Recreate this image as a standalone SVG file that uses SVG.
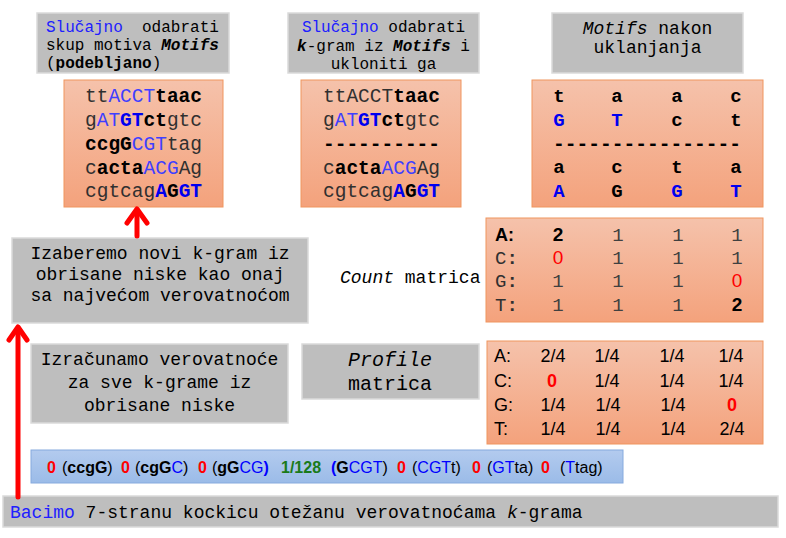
<svg xmlns="http://www.w3.org/2000/svg" width="786" height="538" viewBox="0 0 786 538">
<defs>
<linearGradient id="og" x1="0" y1="0" x2="0" y2="1"><stop offset="0" stop-color="#f5c2ab"/><stop offset="1" stop-color="#f4a27c"/></linearGradient>
<linearGradient id="bg" x1="0" y1="0" x2="0" y2="1"><stop offset="0" stop-color="#b3cbee"/><stop offset="1" stop-color="#9bbbe8"/></linearGradient>
<style>
.gray{fill:#bebebe;stroke:#dadada;stroke-width:1.5}
.org{fill:url(#og);stroke:#f0955f;stroke-width:1}
.mono{font-family:"Liberation Mono","DejaVu Sans Mono",monospace;fill:#000}
.m16{font-size:16px}
.m18{font-size:18px}
.m20{font-size:20px}
.seq{font-family:"Liberation Mono","DejaVu Sans Mono",monospace;font-size:19.5px;fill:#303030}
.b{font-weight:bold;fill:#000}
.bl{fill:#3f3fff}
.bb{font-weight:bold;fill:#0000f0}
.it{font-style:italic}
.bi{font-style:italic;font-weight:bold}
.blue{fill:#2020ff}
.let{font-family:"Liberation Mono","DejaVu Sans Mono",monospace;font-size:19px;font-weight:bold;fill:#000;text-anchor:middle}
.letb{fill:#0000f0}
.num{font-family:"Liberation Mono",monospace;font-size:19px;fill:#404040;text-anchor:middle}
.sans{font-family:"Liberation Sans",Arial,sans-serif}
.prof{font-family:"Liberation Sans",Arial,sans-serif;font-size:18px;fill:#000;text-anchor:middle}
.lab{text-anchor:start}
.bar{font-family:"Liberation Sans",Arial,sans-serif;font-size:16px;fill:#000}
.red{fill:#ff0000}
.grn{fill:#1a7a1a}
.bt{fill:#0000ff}
.arr{fill:none;stroke:#ff0000;stroke-width:5;stroke-linecap:round;stroke-linejoin:round}
</style>
</defs>

<g id="box-random">
<rect class="gray" x="37" y="13" width="192" height="60"/>
<text class="mono m16" x="46" y="32"><tspan class="blue">Slučajno</tspan>&#160; odabrati</text>
<text class="mono m16" x="46" y="50">skup motiva <tspan class="bi">Motifs</tspan></text>
<text class="mono m16" x="46" y="68">(<tspan font-weight="bold">podebljano</tspan>)</text>
</g>

<g id="box-remove">
<rect class="gray" x="288" y="13" width="191" height="60"/>
<text class="mono m16" x="383.5" y="32" text-anchor="middle"><tspan class="blue">Slučajno</tspan> odabrati</text>
<text class="mono m16" x="383.5" y="50.5" text-anchor="middle"><tspan class="bi">k</tspan>-gram iz <tspan class="bi">Motifs</tspan> i</text>
<text class="mono m16" x="383.5" y="69" text-anchor="middle">ukloniti ga</text>
</g>

<g id="box-after">
<rect class="gray" x="552" y="13" width="191" height="60"/>
<text class="mono m18" x="647.5" y="34" text-anchor="middle"><tspan class="it">Motifs</tspan> nakon</text>
<text class="mono m18" x="647.5" y="53" text-anchor="middle">uklanjanja</text>
</g>

<g id="seq1">
<rect class="org" x="64" y="80" width="159" height="127"/>
<text class="seq" x="85" y="102">tt<tspan class="bl">ACCT</tspan><tspan class="b">taac</tspan></text>
<text class="seq" x="85" y="126">g<tspan class="bl">AT</tspan><tspan class="bb">GT</tspan><tspan class="b">ct</tspan>gtc</text>
<text class="seq" x="85" y="150"><tspan class="b">ccgG</tspan><tspan class="bl">CGT</tspan>tag</text>
<text class="seq" x="85" y="174">c<tspan class="b">acta</tspan><tspan class="bl">ACG</tspan>Ag</text>
<text class="seq" x="85" y="197">cgtcag<tspan class="bb">A</tspan><tspan class="b">G</tspan><tspan class="bb">GT</tspan></text>
</g>

<g id="seq2">
<rect class="org" x="301" y="80" width="160" height="127"/>
<text class="seq" x="323" y="102">ttACCT<tspan class="b">taac</tspan></text>
<text class="seq" x="323" y="126">g<tspan class="bl">AT</tspan><tspan class="bb">GT</tspan><tspan class="b">ct</tspan>gtc</text>
<text class="seq b" x="323" y="150">----------</text>
<text class="seq" x="323" y="174">c<tspan class="b">acta</tspan><tspan class="bl">ACG</tspan>Ag</text>
<text class="seq" x="323" y="197">cgtcag<tspan class="bb">A</tspan><tspan class="b">G</tspan><tspan class="bb">GT</tspan></text>
</g>

<g id="motifs-after">
<rect class="org" x="532" y="80" width="231" height="127"/>
<text class="let" x="559" y="102">t</text><text class="let" x="617" y="102">a</text><text class="let" x="677" y="102">a</text><text class="let" x="736" y="102">c</text>
<text class="let letb" x="559" y="126">G</text><text class="let letb" x="617" y="126">T</text><text class="let" x="677" y="126">c</text><text class="let" x="736" y="126">t</text>
<text class="seq b" x="553" y="150" textLength="188" lengthAdjust="spacingAndGlyphs">----------------</text>
<text class="let" x="559" y="173">a</text><text class="let" x="617" y="173">c</text><text class="let" x="677" y="173">t</text><text class="let" x="736" y="173">a</text>
<text class="let letb" x="559" y="197">A</text><text class="let" x="617" y="197">G</text><text class="let letb" x="677" y="197">G</text><text class="let letb" x="736" y="197">T</text>
</g>

<g id="box-choose">
<rect class="gray" x="12" y="238" width="296" height="85"/>
<text class="mono m18" x="160" y="259" text-anchor="middle">Izaberemo novi k-gram iz</text>
<text class="mono m18" x="160" y="280" text-anchor="middle">obrisane niske kao onaj</text>
<text class="mono m18" x="160" y="301" text-anchor="middle">sa najvećom verovatnoćom</text>
</g>

<g id="count-label">
<text class="mono m18" x="340" y="283"><tspan class="it">Count</tspan> matrica</text>
</g>

<g id="count-matrix">
<rect class="org" x="486" y="218" width="277" height="104"/>
<text class="sans" x="495" y="241" font-size="18" font-weight="bold">A:</text>
<text class="mono" x="495" y="264" font-size="19" style="fill:#303030">C<tspan font-weight="bold">:</tspan></text>
<text class="mono" x="495" y="287" font-size="19" style="fill:#303030">G<tspan font-weight="bold">:</tspan></text>
<text class="mono" x="495" y="311" font-size="19" style="fill:#303030">T<tspan font-weight="bold">:</tspan></text>
<text class="sans" x="558" y="241" font-size="19" font-weight="bold" text-anchor="middle">2</text>
<text class="num" x="618" y="241">1</text><text class="num" x="678" y="241">1</text><text class="num" x="737" y="241">1</text>
<text class="sans red" x="558" y="264" font-size="19" text-anchor="middle">0</text>
<text class="num" x="618" y="264">1</text><text class="num" x="678" y="264">1</text><text class="num" x="737" y="264">1</text>
<text class="num" x="558" y="287">1</text><text class="num" x="618" y="287">1</text><text class="num" x="678" y="287">1</text>
<text class="sans red" x="737" y="287" font-size="19" text-anchor="middle">0</text>
<text class="num" x="558" y="311">1</text><text class="num" x="618" y="311">1</text><text class="num" x="678" y="311">1</text>
<text class="sans" x="737" y="311" font-size="19" font-weight="bold" text-anchor="middle">2</text>
</g>

<g id="box-compute">
<rect class="gray" x="31" y="344" width="257" height="79"/>
<text class="mono m18" x="159.5" y="365" text-anchor="middle">Izračunamo verovatnoće</text>
<text class="mono m18" x="159.5" y="388" text-anchor="middle">za sve k-grame iz</text>
<text class="mono m18" x="159.5" y="411" text-anchor="middle">obrisane niske</text>
</g>

<g id="box-profile">
<rect class="gray" x="302" y="344" width="177" height="55"/>
<text class="mono m20 it" x="390" y="366" text-anchor="middle">Profile</text>
<text class="mono m20" x="390" y="390" text-anchor="middle">matrica</text>
</g>

<g id="profile-matrix">
<rect class="org" x="487" y="341" width="276" height="103"/>
<text class="prof lab" x="494" y="362">A:</text>
<text class="prof lab" x="494" y="387">C:</text>
<text class="prof lab" x="494" y="411">G:</text>
<text class="prof lab" x="494" y="435">T:</text>
<text class="prof" x="553" y="362">2/4</text><text class="prof" x="607" y="362">1/4</text><text class="prof" x="672" y="362">1/4</text><text class="prof" x="731" y="362">1/4</text>
<text class="prof red" x="552" y="387" font-weight="bold">0</text><text class="prof" x="607" y="387">1/4</text><text class="prof" x="672" y="387">1/4</text><text class="prof" x="731" y="387">1/4</text>
<text class="prof" x="553" y="411">1/4</text><text class="prof" x="608" y="411">1/4</text><text class="prof" x="673" y="411">1/4</text><text class="prof red" x="732" y="411" font-weight="bold">0</text>
<text class="prof" x="553" y="435">1/4</text><text class="prof" x="608" y="435">1/4</text><text class="prof" x="673" y="435">1/4</text><text class="prof" x="732" y="435">2/4</text>
</g>

<g id="prob-bar">
<rect x="31" y="450" width="592" height="33" fill="url(#bg)" stroke="#86aade" stroke-width="1"/>
<text class="bar" y="473"><tspan x="47" class="red" font-weight="bold">0</tspan><tspan x="62">(</tspan><tspan font-weight="bold">ccgG</tspan>)<tspan x="121" class="red" font-weight="bold">0</tspan><tspan x="135">(</tspan><tspan font-weight="bold">cgG</tspan><tspan class="bt">C</tspan>)<tspan x="198" class="red" font-weight="bold">0</tspan><tspan x="212">(</tspan><tspan font-weight="bold">gG</tspan><tspan class="bt">CG</tspan><tspan class="bt" font-weight="bold">)</tspan><tspan x="281" class="grn" font-weight="bold">1/128</tspan><tspan x="331" class="bt" font-weight="bold">(</tspan><tspan font-weight="bold">G</tspan><tspan class="bt">CGT</tspan>)<tspan x="397" class="red" font-weight="bold">0</tspan><tspan x="412">(</tspan><tspan class="bt">CGT</tspan>t)<tspan x="472" class="red" font-weight="bold">0</tspan><tspan x="487">(</tspan><tspan class="bt">GT</tspan>ta)<tspan x="541" class="red" font-weight="bold">0</tspan><tspan x="560">(</tspan><tspan class="bt">T</tspan>tag)</text>
</g>

<g id="roll-bar">
<rect class="gray" x="3" y="496" width="775" height="31"/>
<text class="mono m18" x="10" y="518"><tspan class="blue">Bacimo</tspan> 7-stranu kockicu otežanu verovatnoćama <tspan class="it">k</tspan>-grama</text>
</g>

<g id="connectors">
<line class="arr" x1="137" y1="236" x2="137" y2="210"/>
<polyline class="arr" points="127,223 137,209 147,223"/>
<line class="arr" x1="18" y1="497" x2="18" y2="328"/>
<polyline class="arr" points="9,340 18,327 27,340"/>
</g>
</svg>
